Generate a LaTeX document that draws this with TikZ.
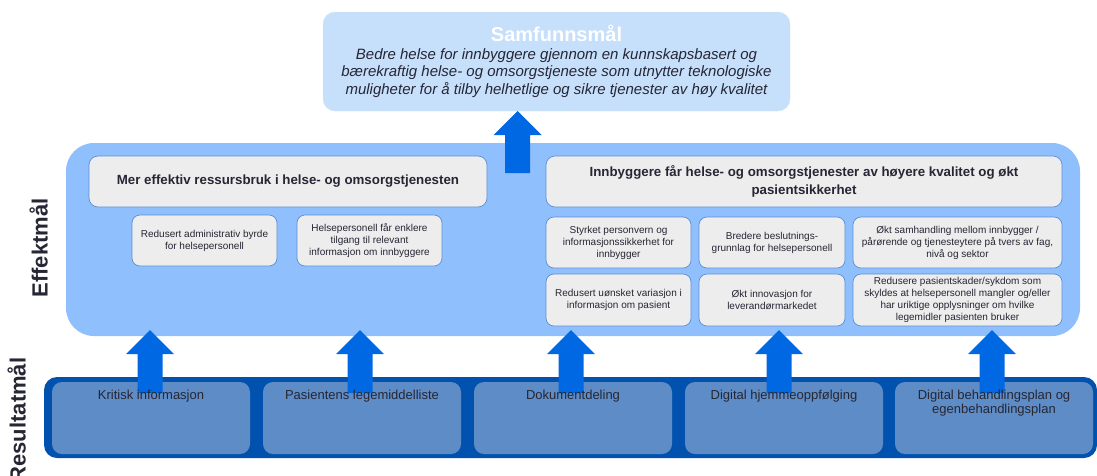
\documentclass[tikz,border=0pt]{standalone}
\usepackage{fontspec}
\setmainfont{Liberation Sans}
\usetikzlibrary{positioning}
\definecolor{topfill}{RGB}{198,223,251}
\definecolor{topline}{RGB}{214,230,248}
\definecolor{efffill}{RGB}{143,191,252}
\definecolor{boxfill}{RGB}{237,237,237}
\definecolor{boxline}{RGB}{92,142,214}
\definecolor{arrowblue}{RGB}{0,104,226}
\definecolor{bandblue}{RGB}{0,82,174}
\definecolor{resfill}{RGB}{94,140,198}
\definecolor{txtdark}{RGB}{38,38,52}
\tikzset{
  headbox/.style={draw=boxline,fill=boxfill,rounded corners=9pt,line width=0.7pt,
    align=center,text=txtdark,inner sep=0pt,font=\bfseries\fontsize{13.3}{18}\selectfont},
  smallbox/.style={draw=boxline,fill=boxfill,rounded corners=8pt,line width=0.7pt,
    align=center,text=txtdark,inner sep=0pt,font=\fontsize{10}{12}\selectfont},
  resbox/.style={fill=resfill,rounded corners=10pt,inner sep=0pt,minimum width=198,minimum height=72},
  restext/.style={anchor=north,align=center,text=txtdark,inner sep=0pt,font=\fontsize{13}{14.5}\selectfont},
  sidelabel/.style={rotate=90,anchor=south,inner sep=0pt,text=txtdark,font=\bfseries\fontsize{22}{22}\selectfont},
  pics/uparrow/.style={code={
    \fill[arrowblue] (0,0) -- ++(24,24) -- ++(-11.5,0) -- ++(0,#1) -- ++(-25,0)
      -- ++(0,-#1) -- ++(-11.5,0) -- cycle;}}
}
\begin{document}
\begin{tikzpicture}[x=1pt,y=-1pt]
\useasboundingbox (0,0) rectangle (1097,475);
% samfunnsmaal
\node[draw=topline,fill=topfill,rounded corners=12pt,minimum width=467,minimum height=99,inner sep=0pt]
  (top) at (556.5,61.5) {};
\node[text=white,font=\bfseries\fontsize{20}{20}\selectfont,inner sep=0pt] (toptitle) at (556.5,33) {Samfunnsmål};
\node[align=center,text=txtdark,inner sep=0pt,font=\itshape\fontsize{15}{17.5}\selectfont]
  (toptext) at (556.5,73) {Bedre helse for innbyggere gjennom en kunnskapsbasert og\\
  bærekraftig helse- og omsorgstjeneste som utnytter teknologiske\\
  muligheter for å tilby helhetlige og sikre tjenester av høy kvalitet};
% effektmaal
\node[fill=efffill,rounded corners=28pt,minimum width=1014,minimum height=193,inner sep=0pt]
  (eff) at (573,239.5) {};
\coordinate (toptip) at (517.5,111);
\pic at (toptip) {uparrow=38};
\node[sidelabel] (efflabel) at (48,248) {Effektmål};
\node[headbox,minimum width=398,minimum height=51] (headL) at (288,181.5)
  {Mer effektiv ressursbruk i helse- og omsorgstjenesten};
\node[headbox,minimum width=516,minimum height=51] (headR) at (804,181.5)
  {Innbyggere får helse- og omsorgstjenester av høyere kvalitet og økt\\pasientsikkerhet};
\node[smallbox,minimum width=145,minimum height=51] (sL1) at (204.5,240.5)
  {Redusert administrativ byrde\\for helsepersonell};
\node[smallbox,minimum width=145,minimum height=51] (sL2) at (369.5,240.5)
  {Helsepersonell får enklere\\tilgang til relevant\\informasjon om innbyggere};
\node[smallbox,minimum width=145,minimum height=51] (g11) at (618.5,242.5)
  {Styrket personvern og\\informasjonssikkerhet for\\innbygger};
\node[smallbox,minimum width=146,minimum height=51] (g12) at (772,242.5)
  {Bredere beslutnings-\\grunnlag for helsepersonell};
\node[smallbox,minimum width=209,minimum height=51] (g13) at (957.5,242.5)
  {Økt samhandling mellom innbygger /\\pårørende og tjenesteytere på tvers av fag,\\nivå og sektor};
\node[smallbox,minimum width=145,minimum height=52] (g21) at (618.5,300)
  {Redusert uønsket variasjon i\\informasjon om pasient};
\node[smallbox,minimum width=146,minimum height=52] (g22) at (772,300)
  {Økt innovasjon for\\leverandørmarkedet};
\node[smallbox,minimum width=209,minimum height=52] (g23) at (957.5,300)
  {Redusere pasientskader/sykdom som\\skyldes at helsepersonell mangler og/eller\\har uriktige opplysninger om hvilke\\legemidler pasienten bruker};
% resultatmaal
\node[fill=bandblue,rounded corners=13pt,minimum width=1053,minimum height=81,inner sep=0pt]
  (band) at (570.5,417.5) {};
\node[sidelabel] (reslabel) at (26,420) {Resultatmål};
\foreach \i/\x in {1/151,2/362,3/573,4/784,5/994}
  \node[resbox] (r\i) at (\x,418) {};
\foreach \i/\dx in {1/-1,2/-2,3/-2,4/-5,5/-2}
  \pic at ([xshift=\dx,yshift=6]r\i.north |- eff.south) {uparrow=39};
\foreach \i/\t in {1/{Kritisk informasjon},2/{Pasientens legemiddelliste},3/{Dokumentdeling},
    4/{Digital hjemmeoppfølging},5/{Digital behandlingsplan og\\egenbehandlingsplan}}
  \node[restext] (t\i) at ([yshift=-8]r\i.north) {\t};
\end{tikzpicture}
\end{document}
